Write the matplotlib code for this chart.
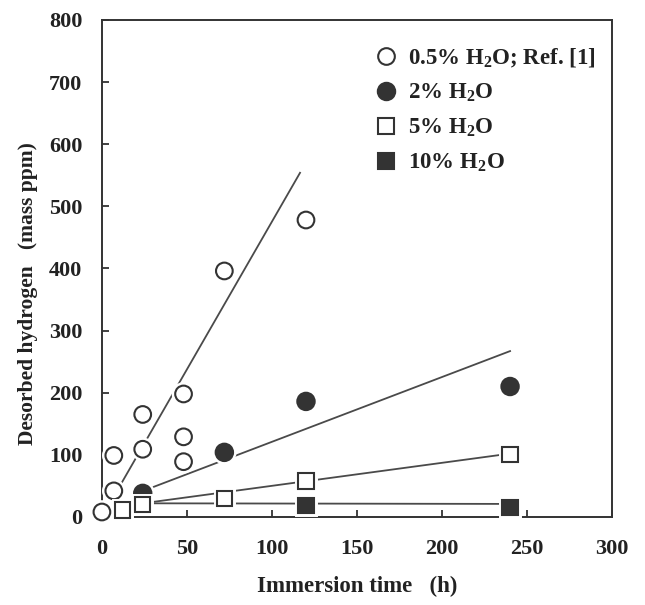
import matplotlib
matplotlib.use("Agg")
import matplotlib.pyplot as plt
import matplotlib.patheffects as pe

plt.rcParams['font.family'] = ['Liberation Serif', 'DejaVu Serif']
plt.rcParams['font.weight'] = 'bold'
plt.rcParams['mathtext.fontset'] = 'custom'
plt.rcParams['mathtext.rm'] = 'Liberation Serif:bold'
plt.rcParams['mathtext.it'] = 'Liberation Serif:bold'
plt.rcParams['mathtext.bf'] = 'Liberation Serif:bold'

# Data (immersion time h, desorbed hydrogen mass ppm)
t_05 = [0, 7, 7, 24, 24, 48, 48, 48, 72, 120]
h_05 = [8, 42, 99, 109, 165, 89, 129, 198, 396, 478]
t_2 = [24, 72, 120, 240]
h_2 = [38, 104, 186, 210]
t_5 = [12, 24, 72, 120, 240]
h_5 = [11, 20, 30, 58, 101]
t_10 = [120, 240]
h_10 = [18, 15]

# Fitted lines (endpoints)
fit_05_x = [7, 116.5]
fit_05_y = [33, 554]
fit_2_x = [30, 240]
fit_2_y = [48, 267]
fit_5_x = [24, 240]
fit_5_y = [22, 102]
fit_10_x = [24, 240]
fit_10_y = [22, 21]

labels = ['0.5% H$_2$O; Ref. [1]', '2% H$_2$O', '5% H$_2$O', '10% H$_2$O']

xticks = [0, 50, 100, 150, 200, 250, 300]
yticks = [0, 100, 200, 300, 400, 500, 600, 700, 800]

fig = plt.figure(figsize=(6.45, 6.05), dpi=100)
ax = fig.add_axes([0.158, 0.1455, 0.791, 0.8215])

lc = '#4a4a4a'
mc = '#333333'
tc = '#222222'
for fx, fy in [(fit_05_x, fit_05_y), (fit_2_x, fit_2_y), (fit_5_x, fit_5_y), (fit_10_x, fit_10_y)]:
    ax.plot(fx, fy, color=lc, lw=1.3, zorder=1)

halo = [pe.Stroke(linewidth=5, foreground='white'), pe.Normal()]
kw = dict(linestyle='none', markeredgewidth=1.5, zorder=3)
h1, = ax.plot(t_05, h_05, marker='o', markersize=12, markerfacecolor='white',
              markeredgecolor=mc, label=labels[0], **kw)
h2, = ax.plot(t_2, h_2, marker='o', markersize=12.5, markerfacecolor=mc,
              markeredgecolor=mc, label=labels[1], **kw)
h3, = ax.plot(t_5, h_5, marker='s', markersize=11, markerfacecolor='white',
              markeredgecolor=mc, label=labels[2], **kw)
h4, = ax.plot(t_10, h_10, marker='s', markersize=11, markerfacecolor=mc,
              markeredgecolor=mc, label=labels[3], **kw)
for h in (h1, h2, h3, h4):
    h.set_path_effects(halo)
    h.set_clip_on(False)

ax.set_xlim(0, 300)
ax.set_ylim(0, 800)
ax.set_xticks(xticks)
ax.set_yticks(yticks)
ax.tick_params(direction='in', length=5, width=1.3, color=mc, labelsize=16,
               top=False, right=False)
ax.tick_params(axis='x', pad=16)
ax.tick_params(axis='y', pad=14)
for lab in ax.get_xticklabels() + ax.get_yticklabels():
    lab.set_fontweight('bold')
    lab.set_color(tc)
for s in ax.spines.values():
    s.set_linewidth(1.4)
    s.set_color(mc)

ax.set_xlabel('Immersion time   (h)', fontsize=16.5, fontweight='bold', color=tc, labelpad=12)
ax.set_ylabel('Desorbed hydrogen   (mass ppm)', fontsize=15.5, fontweight='bold', color=tc)
ax.yaxis.set_label_coords(-0.125, 0.45)

leg = ax.legend(handles=[h1, h2, h3, h4], loc='upper left', bbox_to_anchor=(0.52, 0.965),
                frameon=False, fontsize=16.5, handlelength=0.8, handletextpad=0.6,
                labelspacing=0.55, borderaxespad=0)
for t in leg.get_texts():
    t.set_color(tc)
for lh in leg.legend_handles:
    lh.set_path_effects([])

fig.savefig('out.png', dpi=100)
